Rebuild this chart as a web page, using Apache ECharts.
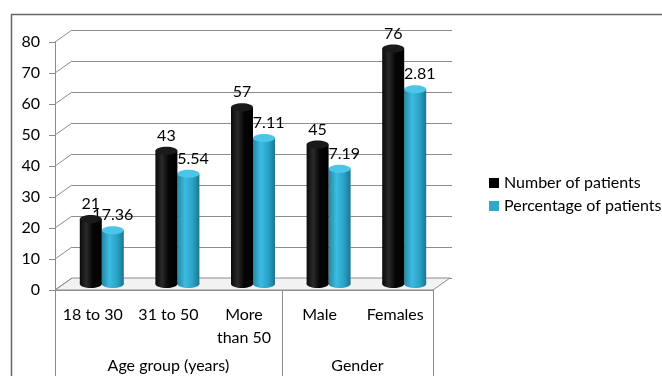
<!DOCTYPE html>
<html>
<head>
<meta charset="utf-8">
<script src="https://cdn.jsdelivr.net/npm/echarts@6/dist/echarts.min.js"></script>
<style>
    html, body { margin: 0; padding: 0; background: #fff; }
    #chart { width: 662px; height: 376px; }
</style>
</head>
<body>
<div id="chart"></div>
<script>
// chart data
var categories = ['18 to 30', '31 to 50', 'More\nthan 50', 'Male', 'Females'];
var groups = ['Age group (years)', 'Gender'];
var groupBounds = [0, 3, 5];
var groupCenters = [1.5, 4];
var numberOfPatients = [21, 43, 57, 45, 76];
var percentOfPatients = [17.36, 35.54, 47.11, 37.19, 62.81];
var yTicks = [0, 10, 20, 30, 40, 50, 60, 70, 80];

var FONT = 'Lato';
var FS = 16;
var front = { left: 55, right: 229, top: 42, bottom: 86 };
var back = { left: 72, right: 210, top: 30, bottom: 98 };
var mid = { left: 64, right: 220, top: 36, bottom: 92 };
var dx = back.left - front.left, dy = back.top - front.top;
var barW = 22, capH = 8;

var chart = echarts.init(document.getElementById('chart'));

function toData(arr) {
    var res = [];
    for (var i = 0; i < arr.length; i++) res.push([i, arr[i]]);
    return res;
}

// cylinder bar drawn in the middle depth plane
function cylinder(side, body, cap, decimals) {
    return function (params, api) {
        var top = api.coord([api.value(0), api.value(1)]);
        var base = api.coord([api.value(0), 0]);
        var cx = top[0] + side * barW / 2;
        var grad = new echarts.graphic.LinearGradient(0, 0, 1, 0, body);
        return {
            type: 'group',
            children: [
                { type: 'ellipse', shape: { cx: cx, cy: base[1], rx: barW / 2, ry: capH / 2 }, style: { fill: grad } },
                { type: 'rect', shape: { x: cx - barW / 2, y: top[1], width: barW, height: base[1] - top[1] }, style: { fill: grad } },
                { type: 'ellipse', shape: { cx: cx, cy: top[1], rx: barW / 2, ry: capH / 2 }, style: { fill: cap } },
                {
                    type: 'text', x: cx, y: top[1] - capH / 2 - 3,
                    style: {
                        text: api.value(1).toFixed(decimals), fill: '#000',
                        font: FS + 'px ' + FONT, align: 'center', verticalAlign: 'bottom'
                    }
                }
            ]
        };
    };
}

var blackBody = [
    { offset: 0, color: '#0a0a0a' }, { offset: 0.3, color: '#2a2a2a' },
    { offset: 0.6, color: '#050505' }, { offset: 1, color: '#000000' }
];
var cyanBody = [
    { offset: 0, color: '#2487a6' }, { offset: 0.35, color: '#3cbbe0' },
    { offset: 0.7, color: '#2aa2c6' }, { offset: 1, color: '#1c7590' }
];

var option = {
    animation: false,
    textStyle: { fontFamily: FONT },
    graphic: [{
        type: 'rect', left: 9, top: 12,
        shape: { width: 700, height: 400 },
        style: { fill: 'none', stroke: '#666', lineWidth: 1.5 },
        z: -10
    }],
    grid: [
        { left: back.left, right: back.right, top: back.top, bottom: back.bottom },
        { left: front.left, right: front.right, top: front.top, bottom: front.bottom },
        { left: mid.left, right: mid.right, top: mid.top, bottom: mid.bottom }
    ],
    legend: {
        orient: 'vertical', left: 489, top: 175, padding: 0,
        itemWidth: 10, itemHeight: 10, itemGap: 7, icon: 'rect',
        textStyle: { fontSize: FS, color: '#000', fontFamily: FONT },
        data: ['Number of patients', 'Percentage of patients']
    },
    xAxis: [
        { gridIndex: 0, type: 'category', data: categories, show: false },
        {
            gridIndex: 1, type: 'category', data: categories,
            axisLine: { lineStyle: { color: '#8c8c8c' } },
            axisTick: { interval: 0, length: 54, lineStyle: { color: '#8c8c8c' } },
            axisLabel: { interval: 0, margin: 13, fontSize: FS, lineHeight: 23, color: '#000', fontFamily: FONT }
        },
        { gridIndex: 2, type: 'category', data: categories, show: false },
        {
            gridIndex: 1, type: 'value', min: 0, max: categories.length, position: 'bottom',
            axisLine: { show: false }, splitLine: { show: false },
            axisTick: { customValues: groupBounds, length: 100, lineStyle: { color: '#8c8c8c' } },
            axisLabel: {
                customValues: groupCenters, margin: 68, fontSize: FS, color: '#000', fontFamily: FONT,
                formatter: function (v) { return groups[groupCenters.indexOf(v)]; }
            }
        }
    ],
    yAxis: [
        {
            gridIndex: 0, type: 'value', min: 0, max: 80, interval: 10,
            axisLine: { show: false }, axisTick: { show: false }, axisLabel: { show: false },
            splitLine: { lineStyle: { color: '#8c8c8c' } }
        },
        {
            gridIndex: 1, type: 'value', min: 0, max: 80, interval: 10,
            axisLine: { show: true, lineStyle: { color: '#8c8c8c' } },
            axisTick: { show: true, length: 6, lineStyle: { color: '#8c8c8c' } },
            axisLabel: { margin: 15, fontSize: FS, color: '#000', fontFamily: FONT },
            splitLine: { show: false }
        },
        { gridIndex: 2, type: 'value', min: 0, max: 80, show: false }
    ],
    series: [
        {
            // floor of the 3D box
            type: 'custom', xAxisIndex: 1, yAxisIndex: 1, silent: true, z: 0,
            data: [[0, 0]],
            renderItem: function (params, api) {
                var cs = params.coordSys;
                var y = api.coord([0, 0])[1];
                return {
                    type: 'polygon',
                    shape: { points: [[cs.x, y], [cs.x + cs.width, y], [cs.x + cs.width + dx, y + dy], [cs.x + dx, y + dy]] },
                    style: { fill: '#f2f2f2', stroke: '#8c8c8c', lineWidth: 1 }
                };
            }
        },
        {
            // diagonal links from front ticks to the back wall
            type: 'custom', xAxisIndex: 1, yAxisIndex: 1, silent: true, z: 1,
            data: yTicks.map(function (v) { return [0, v]; }),
            renderItem: function (params, api) {
                var x = params.coordSys.x;
                var y = api.coord([0, api.value(1)])[1];
                return {
                    type: 'line',
                    shape: { x1: x, y1: y, x2: x + dx, y2: y + dy },
                    style: { stroke: '#8c8c8c', lineWidth: 1 }
                };
            }
        },
        {
            name: 'Percentage of patients', type: 'custom', xAxisIndex: 2, yAxisIndex: 2, z: 2,
            itemStyle: { color: '#2fa8cc' },
            data: toData(percentOfPatients),
            renderItem: cylinder(1, cyanBody, '#4cc6e8', 2)
        },
        {
            name: 'Number of patients', type: 'custom', xAxisIndex: 2, yAxisIndex: 2, z: 3,
            itemStyle: { color: '#000' },
            data: toData(numberOfPatients),
            renderItem: cylinder(-1, blackBody, '#1a1a1a', 0)
        }
    ]
};

chart.setOption(option);
</script>
</body>
</html>
